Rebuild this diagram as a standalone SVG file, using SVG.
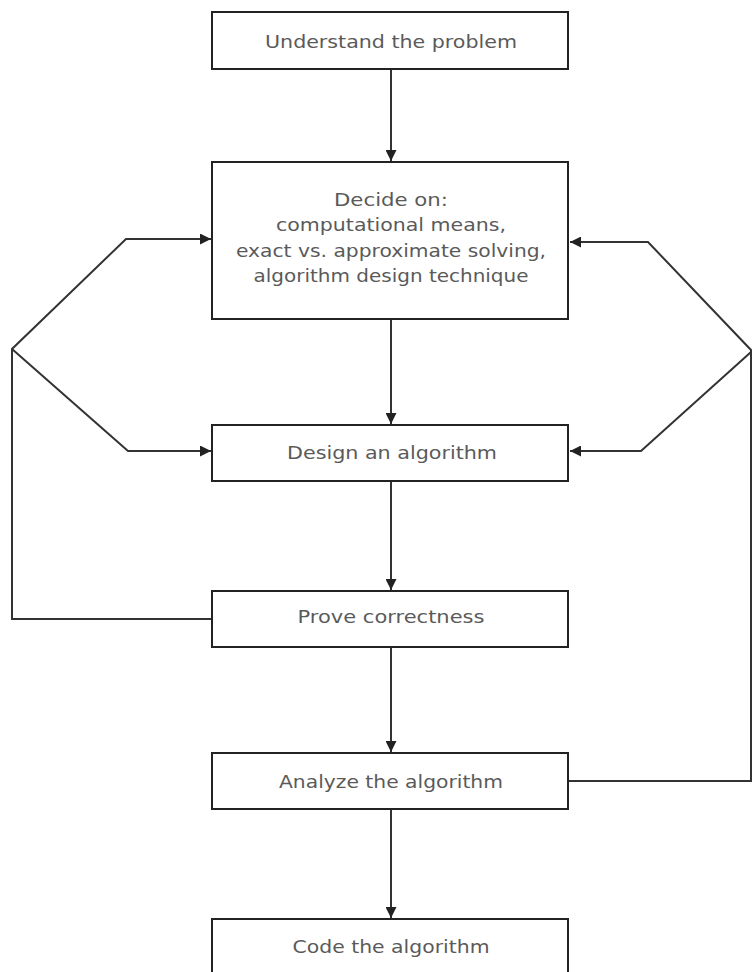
<svg xmlns="http://www.w3.org/2000/svg" width="752" height="972" viewBox="0 0 752 972">
<style>
.box{fill:#fff;stroke:#222;stroke-width:2}
.lbl{font-family:"DejaVu Sans","Liberation Sans",sans-serif;font-size:17px;fill:#5a5a5a;text-anchor:middle}
.conn{fill:none;stroke:#333;stroke-width:2;stroke-linejoin:miter}
</style>
<defs>
<marker id="ah" viewBox="0 0 10 10" refX="10" refY="5" markerWidth="5.5" markerHeight="5.5" orient="auto" markerUnits="strokeWidth">
<path d="M0,0 L10,5 L0,10 z" fill="#222"/>
</marker>
</defs>
<rect width="752" height="972" fill="#fff"/>
<g id="connectors">
<path class="conn" d="M391,69 V161" marker-end="url(#ah)"/>
<path class="conn" d="M391,319 V424" marker-end="url(#ah)"/>
<path class="conn" d="M391,481 V590" marker-end="url(#ah)"/>
<path class="conn" d="M391,647 V752" marker-end="url(#ah)"/>
<path class="conn" d="M391,809 V918" marker-end="url(#ah)"/>
<path class="conn" d="M212,619 H12 V349 L126,239 H211" marker-end="url(#ah)"/>
<path class="conn" d="M12,349 L128,451 H211" marker-end="url(#ah)"/>
<path class="conn" d="M569,781 H751 V350 L648,242 H570" marker-end="url(#ah)"/>
<path class="conn" d="M751,352 L641,451 H570" marker-end="url(#ah)"/>
</g>
<g id="understand">
<rect class="box" x="212" y="12" width="356" height="57"/>
<text class="lbl" x="391" y="48" textLength="252" lengthAdjust="spacingAndGlyphs">Understand the problem</text>
</g>
<g id="decide">
<rect class="box" x="212" y="162" width="356" height="157"/>
<text class="lbl" x="391" y="206" textLength="114" lengthAdjust="spacingAndGlyphs">Decide on:</text>
<text class="lbl" x="391" y="231" textLength="230" lengthAdjust="spacingAndGlyphs">computational means,</text>
<text class="lbl" x="391" y="257" textLength="310" lengthAdjust="spacingAndGlyphs">exact vs. approximate solving,</text>
<text class="lbl" x="391" y="282" textLength="275" lengthAdjust="spacingAndGlyphs">algorithm design technique</text>
</g>
<g id="design">
<rect class="box" x="212" y="425" width="356" height="56"/>
<text class="lbl" x="392" y="459" textLength="210" lengthAdjust="spacingAndGlyphs">Design an algorithm</text>
</g>
<g id="prove">
<rect class="box" x="212" y="591" width="356" height="56"/>
<text class="lbl" x="391" y="623" textLength="187" lengthAdjust="spacingAndGlyphs">Prove correctness</text>
</g>
<g id="analyze">
<rect class="box" x="212" y="753" width="356" height="56"/>
<text class="lbl" x="391" y="788" textLength="224" lengthAdjust="spacingAndGlyphs">Analyze the algorithm</text>
</g>
<g id="code">
<rect class="box" x="212" y="919" width="356" height="70"/>
<text class="lbl" x="391" y="953" textLength="197" lengthAdjust="spacingAndGlyphs">Code the algorithm</text>
</g>
</svg>
